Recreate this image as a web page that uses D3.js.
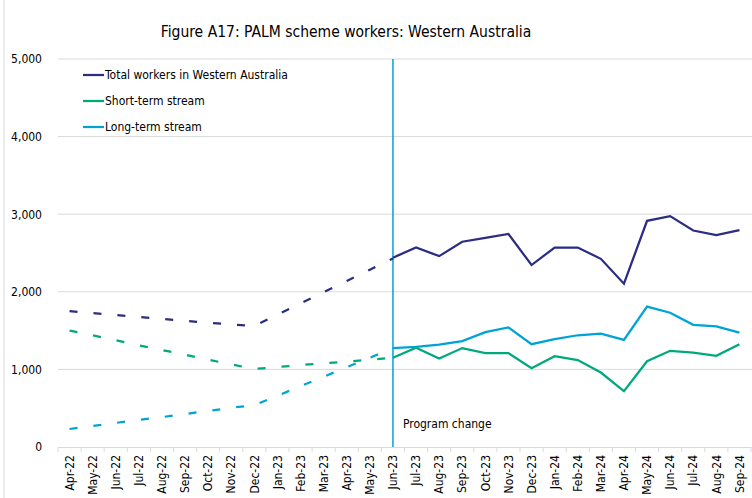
<!DOCTYPE html>
<html><head><meta charset="utf-8">
<script src="https://cdn.jsdelivr.net/npm/d3@7"></script>
<style>
body{margin:0;background:#fff;}
text{font-family:"DejaVu Sans Condensed","DejaVu Sans",sans-serif;fill:#000;}
</style></head>
<body><svg id="c" width="752" height="498"></svg>
<script>
const months = ["Apr-22","May-22","Jun-22","Jul-22","Aug-22","Sep-22","Oct-22","Nov-22","Dec-22","Jan-23","Feb-23","Mar-23","Apr-23","May-23","Jun-23","Jul-23","Aug-23","Sep-23","Oct-23","Nov-23","Dec-23","Jan-24","Feb-24","Mar-24","Apr-24","May-24","Jun-24","Jul-24","Aug-24","Sep-24"];
// Estimated (dashed) period: Apr-22 .. Jun-23
const totalEst = [1750,1725,1700,1675,1650,1625,1600,1580,1560,1705,1850,1995,2140,2285,2430];
const shortEst = [1500,1440,1375,1310,1250,1190,1125,1065,1005,1030,1055,1080,1100,1125,1150];
const longEst  = [232,270,310,350,385,425,465,505,540,660,785,905,1030,1150,1275];
// Actual (solid) period: Jun-23 .. Sep-24
const totalAct = [2440,2570,2460,2645,2695,2745,2345,2570,2570,2425,2105,2915,2975,2790,2730,2795];
const shortAct = [1150,1280,1140,1275,1210,1210,1015,1170,1120,960,720,1105,1240,1215,1175,1325];
const longAct  = [1275,1290,1320,1365,1480,1540,1325,1390,1440,1460,1380,1810,1730,1575,1555,1475];
const yTicks = [0,1000,2000,3000,4000,5000];
const changeMonth = "Jun-23";
const title = "Figure A17: PALM scheme workers: Western Australia";
const seriesNames = ["Total workers in Western Australia","Short-term stream","Long-term stream"];
const colors = ["#2B2C82","#00A87E","#00A3D6"];

const svg = d3.select("#c");
const L=58, R=751, T=59, B=447;
const x = d3.scaleBand().domain(months).range([L,R]).paddingInner(0).paddingOuter(0);
const y = d3.scaleLinear().domain([0,5000]).range([B,T]);
const cx = m => x(m) + x.bandwidth()/2;

// left border
svg.append("line").attr("x1",4).attr("x2",4).attr("y1",0).attr("y2",498).attr("stroke","#d9d9d9");

// title
svg.append("text").attr("x",346).attr("y",37).attr("text-anchor","middle").style("font-size","15.5px").text(title);

// gridlines
svg.append("g").selectAll("line").data(yTicks.filter(d=>d>0)).join("line")
  .attr("x1",L).attr("x2",R+1).attr("y1",d=>y(d)).attr("y2",d=>y(d))
  .attr("stroke","#d9d9d9").attr("stroke-width",1);

// y axis labels
const yAxis = d3.axisLeft(y).tickValues(yTicks).tickSize(0).tickPadding(16).tickFormat(d3.format(","));
const gy = svg.append("g").attr("transform",`translate(${L},0)`).call(yAxis);
gy.select(".domain").remove();
gy.selectAll("text").style("font-size","12px").style("font-family",'"DejaVu Sans Condensed","DejaVu Sans",sans-serif').attr("fill","#000");

// x axis
const xAxis = d3.axisBottom(x).tickSize(0).tickPadding(0);
const gx = svg.append("g").attr("transform",`translate(0,${B})`).call(xAxis);
gx.select(".domain").attr("stroke","#d9d9d9");
gx.selectAll("text").attr("transform","rotate(-90)").attr("text-anchor","end")
  .attr("x",-8).attr("y",0).attr("dy","0.35em")
  .style("font-size","12px").style("font-family",'"DejaVu Sans Condensed","DejaVu Sans",sans-serif').attr("fill","#000");
// boundary ticks
svg.append("g").selectAll("line").data(months.concat(["__end"])).join("line")
  .attr("x1",(d,i)=> i<months.length ? x(d) : R).attr("x2",(d,i)=> i<months.length ? x(d) : R)
  .attr("y1",B).attr("y2",B+5).attr("stroke","#d9d9d9");

// lines
const line = d3.line().x(d=>cx(d.m)).y(d=>y(d.v));
const estMonths = months.slice(0, totalEst.length);
const actMonths = months.slice(months.indexOf(changeMonth));
const est = [totalEst, shortEst, longEst];
const act = [totalAct, shortAct, longAct];
// program change vertical line
svg.append("line").attr("x1",cx(changeMonth)).attr("x2",cx(changeMonth)).attr("y1",T).attr("y2",B)
  .attr("stroke","#00A3D6").attr("stroke-width",1.5);

[2,1,0].forEach(k=>{
  svg.append("path").datum(est[k].map((v,i)=>({m:estMonths[i],v})))
    .attr("d",line).attr("fill","none").attr("stroke",colors[k]).attr("stroke-width",2.25)
    .attr("stroke-dasharray","8,16");
  svg.append("path").datum(act[k].map((v,i)=>({m:actMonths[i],v})))
    .attr("d",line).attr("fill","none").attr("stroke",colors[k]).attr("stroke-width",2.25)
    .attr("stroke-linejoin","miter");
});

svg.append("text").attr("x",cx(changeMonth)+10).attr("y",428).style("font-size","12px").text("Program change");

// legend
const lg = svg.append("g");
seriesNames.forEach((n,i)=>{
  const yy = 75 + i*26;
  lg.append("line").attr("x1",83).attr("x2",104).attr("y1",yy).attr("y2",yy).attr("stroke",colors[i]).attr("stroke-width",2.25);
  lg.append("text").attr("x",105).attr("y",yy).attr("dy","0.35em").style("font-size","12px").text(n);
});
</script></body></html>
